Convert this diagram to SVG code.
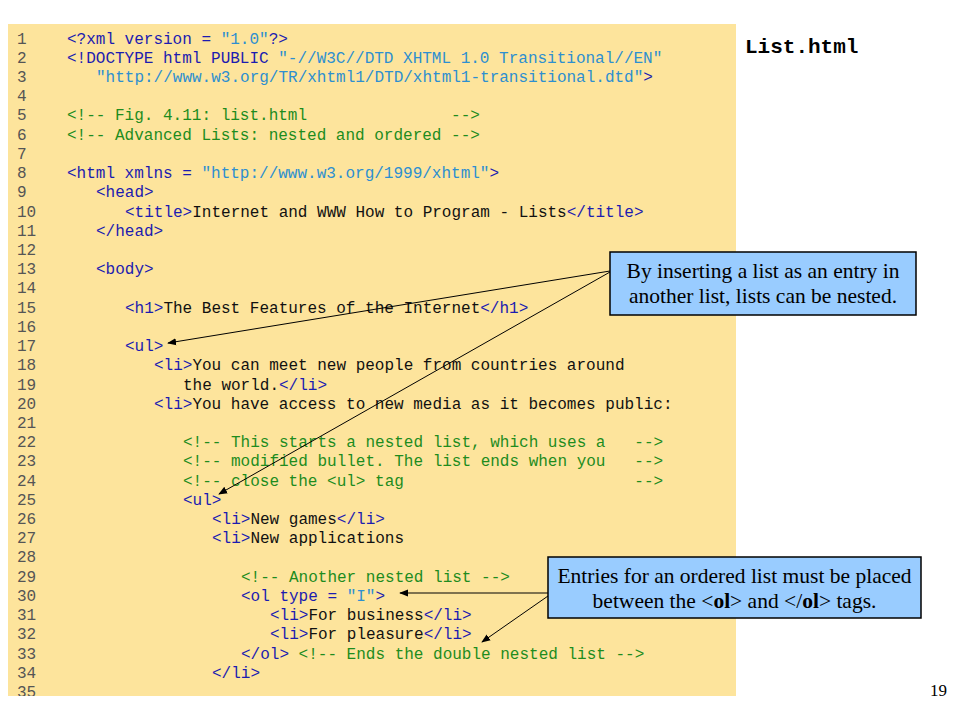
<svg xmlns="http://www.w3.org/2000/svg" width="960" height="720" viewBox="0 0 960 720">
<style>
.code{font-family:"Liberation Mono","Courier New",monospace;font-size:16px}
.n{fill:#555555}
.t{fill:#1c1cb0}
.s{fill:#2d8fd0}
.c{fill:#1e8c1e}
.k{fill:#111111}
.note{font-family:"Liberation Serif","Times New Roman",serif;font-size:21.5px;fill:#000000;text-anchor:middle}
.box{fill:#99ccff;stroke:#000000;stroke-width:1.5}
.conn{stroke:#000000;stroke-width:1;fill:none}
</style>
<defs>
<marker id="ah" viewBox="0 0 10 10" refX="9" refY="5" markerWidth="9" markerHeight="9" markerUnits="userSpaceOnUse" orient="auto">
<path d="M0,1 L10,5 L0,9 Z" fill="#000000"/>
</marker>
<clipPath id="clip"><rect x="8" y="24" width="728" height="672"/></clipPath>
</defs>
<rect width="960" height="720" fill="#ffffff"/>
<g id="listing">
<rect x="8" y="24" width="728" height="672" fill="#fde49c"/>
<g clip-path="url(#clip)" class="code">
<text class="n" x="17" y="43.5">1</text>
<text x="67" y="43.5"><tspan class="t">&lt;?xml version =&#160;</tspan><tspan class="s">"1.0"</tspan><tspan class="t">?&gt;</tspan></text>
<text class="n" x="17" y="62.7">2</text>
<text x="67" y="62.7"><tspan class="t">&lt;!DOCTYPE html PUBLIC&#160;</tspan><tspan class="s">"-//W3C//DTD XHTML 1.0 Transitional//EN"</tspan></text>
<text class="n" x="17" y="81.9">3</text>
<text x="96" y="81.9"><tspan class="s">"http://www.w3.org/TR/xhtml1/DTD/xhtml1-transitional.dtd"</tspan><tspan class="t">&gt;</tspan></text>
<text class="n" x="17" y="101.2">4</text>
<text class="n" x="17" y="120.4">5</text>
<text class="c" x="67" y="120.4">&lt;!-- Fig. 4.11: list.html&#160;&#160;&#160;&#160;&#160;&#160;&#160;&#160;&#160;&#160;&#160;&#160;&#160;&#160;&#160;--&gt;</text>
<text class="n" x="17" y="139.6">6</text>
<text class="c" x="67" y="139.6">&lt;!-- Advanced Lists: nested and ordered --&gt;</text>
<text class="n" x="17" y="158.8">7</text>
<text class="n" x="17" y="178.0">8</text>
<text x="67" y="178.0"><tspan class="t">&lt;html xmlns =&#160;</tspan><tspan class="s">"http://www.w3.org/1999/xhtml"</tspan><tspan class="t">&gt;</tspan></text>
<text class="n" x="17" y="197.3">9</text>
<text class="t" x="96" y="197.3">&lt;head&gt;</text>
<text class="n" x="17" y="216.5">10</text>
<text x="125" y="216.5"><tspan class="t">&lt;title&gt;</tspan><tspan class="k">Internet and WWW How to Program - Lists</tspan><tspan class="t">&lt;/title&gt;</tspan></text>
<text class="n" x="17" y="235.7">11</text>
<text class="t" x="96" y="235.7">&lt;/head&gt;</text>
<text class="n" x="17" y="254.9">12</text>
<text class="n" x="17" y="274.1">13</text>
<text class="t" x="96" y="274.1">&lt;body&gt;</text>
<text class="n" x="17" y="293.4">14</text>
<text class="n" x="17" y="312.6">15</text>
<text x="125" y="312.6"><tspan class="t">&lt;h1&gt;</tspan><tspan class="k">The Best Features of the Internet</tspan><tspan class="t">&lt;/h1&gt;</tspan></text>
<text class="n" x="17" y="331.8">16</text>
<text class="n" x="17" y="351.0">17</text>
<text class="t" x="125" y="351.0">&lt;ul&gt;</text>
<text class="n" x="17" y="370.2">18</text>
<text x="154" y="370.2"><tspan class="t">&lt;li&gt;</tspan><tspan class="k">You can meet new people from countries around</tspan></text>
<text class="n" x="17" y="389.5">19</text>
<text x="183" y="389.5"><tspan class="k">the world.</tspan><tspan class="t">&lt;/li&gt;</tspan></text>
<text class="n" x="17" y="408.7">20</text>
<text x="154" y="408.7"><tspan class="t">&lt;li&gt;</tspan><tspan class="k">You have access to new media as it becomes public:</tspan></text>
<text class="n" x="17" y="427.9">21</text>
<text class="n" x="17" y="447.1">22</text>
<text class="c" x="183" y="447.1">&lt;!-- This starts a nested list, which uses a&#160;&#160;&#160;--&gt;</text>
<text class="n" x="17" y="466.3">23</text>
<text class="c" x="183" y="466.3">&lt;!-- modified bullet. The list ends when you&#160;&#160;&#160;--&gt;</text>
<text class="n" x="17" y="485.6">24</text>
<text class="c" x="183" y="485.6">&lt;!-- close the &lt;ul&gt; tag&#160;&#160;&#160;&#160;&#160;&#160;&#160;&#160;&#160;&#160;&#160;&#160;&#160;&#160;&#160;&#160;&#160;&#160;&#160;&#160;&#160;&#160;&#160;&#160;--&gt;</text>
<text class="n" x="17" y="504.8">25</text>
<text class="t" x="183" y="504.8">&lt;ul&gt;</text>
<text class="n" x="17" y="524.0">26</text>
<text x="212" y="524.0"><tspan class="t">&lt;li&gt;</tspan><tspan class="k">New games</tspan><tspan class="t">&lt;/li&gt;</tspan></text>
<text class="n" x="17" y="543.2">27</text>
<text x="212" y="543.2"><tspan class="t">&lt;li&gt;</tspan><tspan class="k">New applications</tspan></text>
<text class="n" x="17" y="562.4">28</text>
<text class="n" x="17" y="581.7">29</text>
<text class="c" x="241" y="581.7">&lt;!-- Another nested list --&gt;</text>
<text class="n" x="17" y="600.9">30</text>
<text x="241" y="600.9"><tspan class="t">&lt;ol type =&#160;</tspan><tspan class="s">"I"</tspan><tspan class="t">&gt;</tspan></text>
<text class="n" x="17" y="620.1">31</text>
<text x="270" y="620.1"><tspan class="t">&lt;li&gt;</tspan><tspan class="k">For business</tspan><tspan class="t">&lt;/li&gt;</tspan></text>
<text class="n" x="17" y="639.3">32</text>
<text x="270" y="639.3"><tspan class="t">&lt;li&gt;</tspan><tspan class="k">For pleasure</tspan><tspan class="t">&lt;/li&gt;</tspan></text>
<text class="n" x="17" y="658.5">33</text>
<text x="241" y="658.5"><tspan class="t">&lt;/ol&gt;&#160;</tspan><tspan class="c">&lt;!-- Ends the double nested list --&gt;</tspan></text>
<text class="n" x="17" y="677.8">34</text>
<text class="t" x="212" y="677.8">&lt;/li&gt;</text>
<text class="n" x="17" y="697.0">35</text>
</g>
</g>
<g id="title">
<text x="745" y="53" font-family="Liberation Mono, Courier New, monospace" font-size="21" font-weight="bold" fill="#000000">List.html</text>
</g>
<g id="connectors">
<line class="conn" x1="610" y1="271" x2="168" y2="343" marker-end="url(#ah)"/>
<line class="conn" x1="610" y1="272" x2="219" y2="494" marker-end="url(#ah)"/>
<line class="conn" x1="548" y1="593" x2="400" y2="593" marker-end="url(#ah)"/>
<line class="conn" x1="548" y1="596" x2="482" y2="642" marker-end="url(#ah)"/>
</g>
<g id="note-nested">
<rect class="box" x="610" y="252" width="306" height="63"/>
<text class="note" x="763" y="278">By inserting a list as an entry in</text>
<text class="note" x="763" y="303">another list, lists can be nested.</text>
</g>
<g id="note-ordered">
<rect class="box" x="548" y="557" width="373" height="61"/>
<text class="note" x="734.5" y="583">Entries for an ordered list must be placed</text>
<text class="note" x="734.5" y="608">between the &lt;<tspan font-weight="bold">ol</tspan>&gt; and &lt;/<tspan font-weight="bold">ol</tspan>&gt; tags.</text>
</g>
<g id="page-number">
<text x="930" y="696" font-family="Liberation Serif, Times New Roman, serif" font-size="17" fill="#000000">19</text>
</g>
</svg>
